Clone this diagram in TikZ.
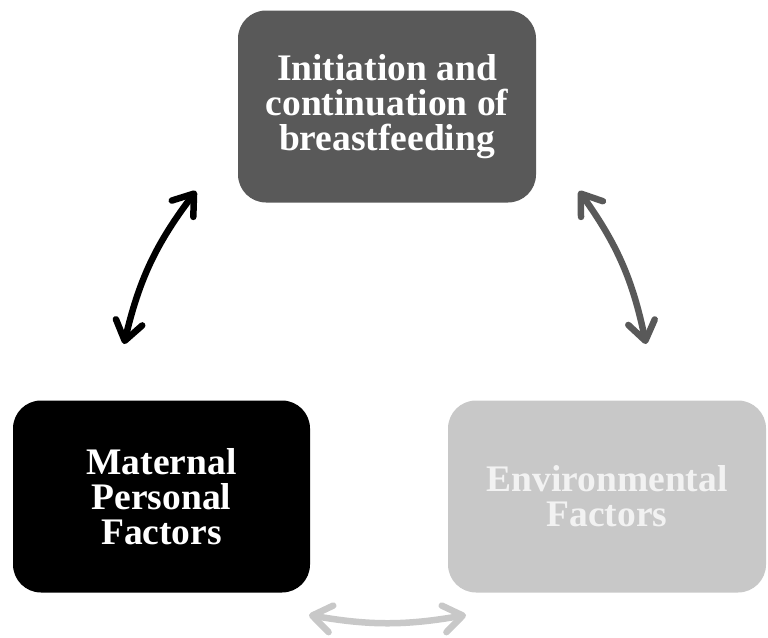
\documentclass[tikz,border=0pt]{standalone}
\usepackage{fontspec}
\setmainfont{Liberation Serif}
\usetikzlibrary{arrows.meta}

\definecolor{boxdark}{HTML}{595959}
\definecolor{boxlight}{HTML}{C8C8C8}
\definecolor{textlight}{HTML}{F2F2F2}

\begin{document}
\begin{tikzpicture}[x=1pt, y=-1pt,
    box/.style={rounded corners=28pt, minimum height=192pt, inner sep=0pt, align=center,
        font=\fontsize{37.5}{35}\selectfont\bfseries},
    link/.style={line width=6.5pt,
        {Straight Barb[round,length=19pt,width=27pt]}-{Straight Barb[round,length=19pt,width=27pt]}}]
    \useasboundingbox (0,0) rectangle (768,637);

    % Les trois blocs
    \node[box, fill=boxdark, text=white, minimum width=298pt] (init) at (387,106.5)
        {Initiation and\\continuation of\\breastfeeding};
    \node[box, fill=black, text=white, minimum width=297pt] (mat) at (161.5,496.5)
        {Maternal\\Personal\\Factors};
    \node[box, fill=boxlight, text=textlight, minimum width=318pt] (env) at (607,496.5)
        {Environmental\\Factors};

    % Extremites des fleches
    \coordinate (matTop) at (124,344);
    \coordinate (initLeft) at (196,191);
    \coordinate (initRight) at (579,191);
    \coordinate (envTop) at (646,344);
    \coordinate (matBottom) at (309,615);
    \coordinate (envBottom) at (466,615);

    % Fleches doubles
    \draw[link, black] (matTop) to[bend left=12] (initLeft);
    \draw[link, boxdark] (initRight) to[bend left=12] (envTop);
    \draw[link, boxlight] (matBottom) to[bend right=10] (envBottom);

\end{tikzpicture}
\end{document}
